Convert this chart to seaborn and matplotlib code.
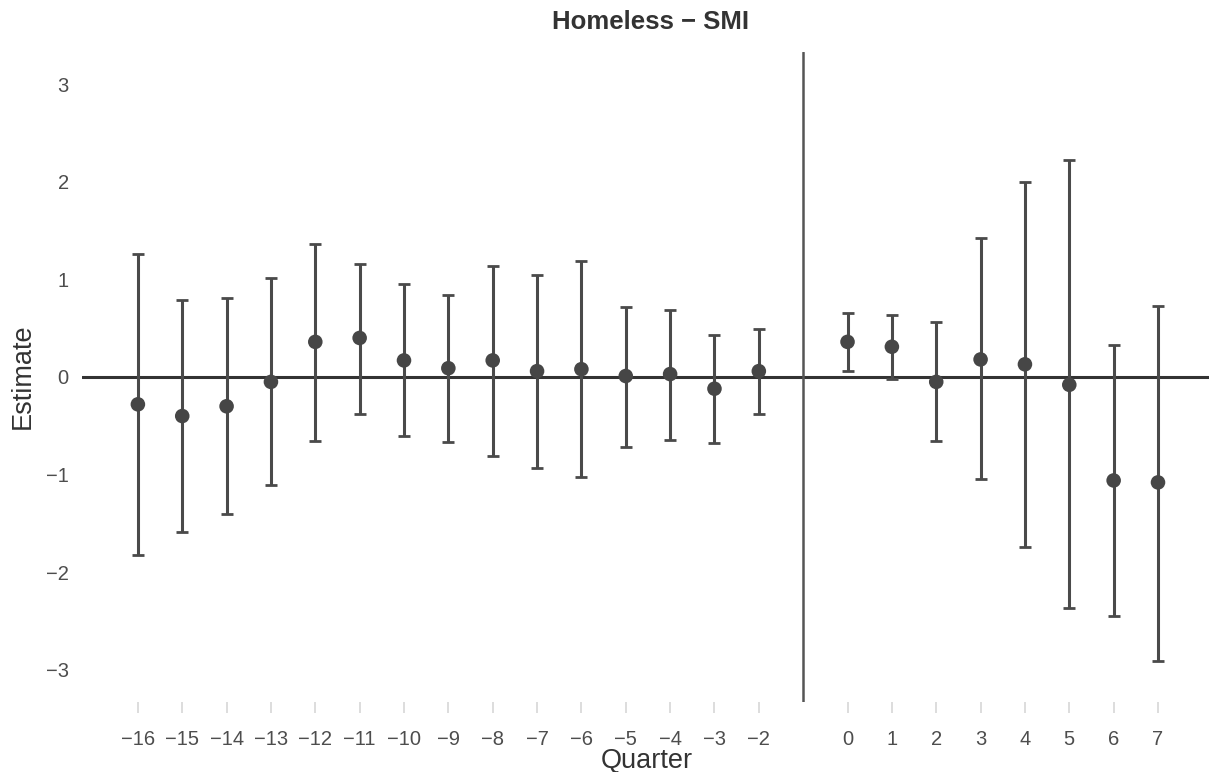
import matplotlib
matplotlib.use("Agg")
import matplotlib.pyplot as plt
import seaborn as sns
import pandas as pd

# Event-study coefficients by quarter relative to treatment (quarter -1 is the reference)
quarters = [-16, -15, -14, -13, -12, -11, -10, -9, -8, -7, -6, -5, -4, -3, -2,
            0, 1, 2, 3, 4, 5, 6, 7]
estimates = [-0.28, -0.40, -0.30, -0.05, 0.36, 0.40, 0.17, 0.09, 0.17, 0.06, 0.08,
             0.01, 0.03, -0.12, 0.06,
             0.36, 0.31, -0.05, 0.18, 0.13, -0.08, -1.06, -1.08]
ci_low = [-1.82, -1.59, -1.40, -1.11, -0.66, -0.38, -0.60, -0.67, -0.81, -0.93, -1.02,
          -0.72, -0.65, -0.68, -0.38,
          0.06, -0.02, -0.66, -1.05, -1.74, -2.37, -2.45, -2.91]
ci_high = [1.26, 0.79, 0.81, 1.01, 1.36, 1.16, 0.95, 0.84, 1.14, 1.04, 1.19,
           0.72, 0.69, 0.43, 0.49,
           0.66, 0.64, 0.56, 1.42, 2.00, 2.22, 0.33, 0.73]
y_ticks = [-3, -2, -1, 0, 1, 2, 3]
ref_quarter = -1

df = pd.DataFrame({"Quarter": quarters, "Estimate": estimates,
                   "low": ci_low, "high": ci_high})

sns.set_theme(style="white")
plt.rcParams["font.family"] = ["Liberation Sans", "DejaVu Sans"]

W, H = 1209, 772
fig = plt.figure(figsize=(W / 100, H / 100), dpi=100)
ax = fig.add_axes([82 / W, 1 - 702 / H, (W - 82) / W, (702 - 52) / H])

dark = "#4a4a4a"
ax.axhline(0, color="#333333", lw=2.2, zorder=1)
ax.axvline(ref_quarter, color="#555555", lw=1.8, zorder=1)

ax.errorbar(df["Quarter"], df["Estimate"],
            yerr=[df["Estimate"] - df["low"], df["high"] - df["Estimate"]],
            fmt="none", ecolor=dark, elinewidth=2.2, capsize=4.3, capthick=2.0,
            zorder=2)
sns.scatterplot(data=df, x="Quarter", y="Estimate", ax=ax, color="#464646",
                s=110, edgecolor="none", zorder=3)

ax.set_xlim(-17.26, 8.15)
ax.set_ylim(-3.33, 3.33)
ax.set_xticks(quarters)
ax.set_xticklabels([str(q).replace("-", "\u2212") for q in quarters])
ax.set_yticks(y_ticks)
ax.set_yticklabels([str(v).replace("-", "\u2212") for v in y_ticks])

ax.tick_params(axis="x", length=8, width=1.4, color="#dddddd", pad=12,
               labelsize=14.5, labelcolor="#4d4d4d", bottom=True)
ax.tick_params(axis="y", length=0, pad=9.5, labelsize=14.5, labelcolor="#4d4d4d")

for s in ax.spines.values():
    s.set_visible(False)

ax.set_xlabel("")
ax.set_ylabel("")
fig.text(647 / W, 1 - 768 / H, "Quarter", fontsize=19.5, color="#333333",
         ha="center", va="baseline")
fig.text(23 / W, 1 - 376 / H, "Estimate", fontsize=19.5, color="#333333",
         ha="center", va="center", rotation=90)
fig.text(650 / W, 1 - 22 / H, "Homeless \u2212 SMI", fontsize=18.5,
         fontweight="bold", color="#333333", ha="center", va="center")

fig.savefig("out.png", dpi=100)
